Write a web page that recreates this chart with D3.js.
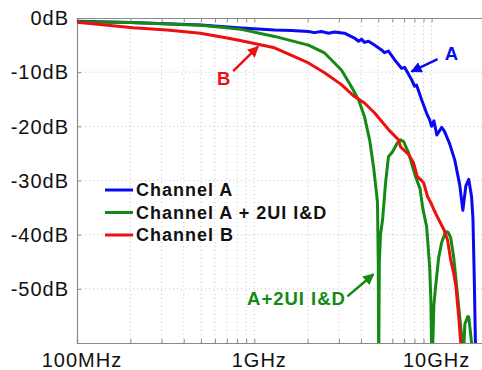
<!DOCTYPE html>
<html>
<head>
<meta charset="utf-8">
<script src="https://cdn.jsdelivr.net/npm/d3@7"></script>
<style>
  body { margin: 0; background: #fff; }
  svg { display: block; }
  text { font-family: "Liberation Sans", Arial, Helvetica, sans-serif; letter-spacing: 1px; }
</style>
</head>
<body>
<svg id="chart" width="482" height="370"></svg>
<script>
// ====== DATA (frequency in GHz, magnitude in dB) ======
const channelA = [
  [0.1, -0.6], [0.2, -0.85], [0.5, -1.3], [0.845, -1.85], [1.3, -2.2], [1.62, -2.3],
  [2.02, -2.5], [2.18, -2.7], [2.39, -2.5], [2.62, -2.8], [2.83, -2.6], [3.22, -2.8],
  [3.67, -3.7], [3.87, -4.3], [4.02, -3.9], [4.18, -4.5], [4.4, -4.3], [4.76, -5.0],
  [5.22, -5.9], [5.42, -6.4], [5.71, -6.1], [6.18, -7.7], [6.77, -9.3], [7.04, -9.1],
  [7.71, -11.4], [8.02, -12.6], [8.23, -12.4], [8.78, -15.1], [9.37, -17.6], [9.75, -18.8],
  [10.0, -20.0], [10.3, -19.0], [10.7, -21.6], [11.4, -20.2], [11.8, -20.9], [12.6, -23.1],
  [13.5, -26.2], [14.2, -29.8], [14.4, -30.8], [15.0, -35.5], [15.6, -31.0], [16.2, -29.8],
  [16.8, -33.0], [17.1, -37.0], [17.4, -48.0], [17.7, -62.0]
];

const channelAID = [
  [0.1, -0.7], [0.2, -0.85], [0.5, -1.35], [0.845, -2.1], [1.3, -3.4], [2.02, -5.0],
  [2.49, -6.45], [3.1, -9.6], [3.53, -12.7], [3.87, -15.1], [4.18, -18.2], [4.47, -22.5],
  [4.7, -27.4], [4.83, -30.8], [4.95, -34.0], [5.0, -45.0], [5.03, -65.0], [5.07, -45.0],
  [5.15, -40.0], [5.29, -37.2], [5.5, -30.4], [5.71, -25.6], [6.02, -24.7], [6.43, -23.0],
  [6.68, -22.5], [6.95, -22.8], [7.41, -24.9], [8.12, -29.3], [8.6, -31.5], [8.9, -35.0],
  [9.37, -38.5], [9.55, -42.0], [9.75, -46.0], [9.9, -52.0], [10.05, -65.0], [10.3, -53.0],
  [10.5, -50.0], [10.96, -44.2], [11.4, -41.4], [12.0, -39.4], [12.4, -39.6], [12.8, -40.5],
  [13.3, -44.0], [13.5, -46.0], [14.2, -53.2], [14.7, -58.0], [15.0, -65.0], [15.4, -56.5],
  [16.0, -55.1], [16.2, -55.2], [16.8, -60.0], [17.0, -65.0]
];

const channelB = [
  [0.1, -0.8], [0.135, -1.2], [0.207, -1.8], [0.322, -2.2], [0.495, -2.8], [0.704, -3.7],
  [0.845, -4.2], [1.3, -5.5], [2.02, -8.3], [2.49, -10.1], [3.1, -12.3], [3.67, -14.5],
  [4.18, -15.7], [4.76, -17.5], [5.71, -20.6], [6.51, -22.5], [6.68, -23.8], [7.41, -25.2],
  [7.9, -26.7], [8.3, -29.3], [8.78, -30.0], [9.01, -30.4], [9.49, -33.0], [9.9, -34.1],
  [10.3, -35.4], [10.96, -37.2], [11.7, -39.0], [12.3, -41.0], [12.8, -44.6], [13.3, -47.0],
  [13.7, -49.5], [14.2, -55.0], [14.6, -60.0], [14.8, -64.0]
];

const seriesNames = ["Channel A", "Channel A + 2UI I&D", "Channel B"];
const seriesColors = ["#0a0af0", "#148a14", "#ee1010"];

const xTickValues = [0.1, 1, 10];
const xTickLabels = ["100MHz", "1GHz", "10GHz"];
const yTickValues = [0, -10, -20, -30, -40, -50];
const yTickLabels = ["0dB", "-10dB", "-20dB", "-30dB", "-40dB", "-50dB"];

// annotations: label, text position, arrow start, arrow tip (GHz, dB)
const annotations = [
  { text: "A", color: 0, at: [13.0, -7.7], from: [10.8, -7.6], to: [7.7, -9.9] },
  { text: "B", color: 2, at: [0.677, -12.3], from: [0.76, -9.8], to: [1.05, -5.3] },
  { text: "A+2UI I&D", color: 1, at: [1.73, -52.9], from: [3.35, -51.4], to: [4.7, -47.3] }
];

// ====== LAYOUT ======
const svg = d3.select("#chart");
const margin = { left: 77, top: 18, right: 485, bottom: 343 };

const x = d3.scaleLog().domain([0.1, 20]).range([margin.left, margin.right]);
const y = d3.scaleLinear().domain([-60, 0]).range([margin.bottom, margin.top]);

// minor grid positions, 1..9 per decade
const gridX = [];
[0.1, 1, 10].forEach(d => {
  for (let k = 1; k <= 9; k++) {
    const v = d * k;
    if (v <= 20) gridX.push(v);
  }
});
gridX.push(20);

svg.append("defs").append("clipPath").attr("id", "plotClip")
  .append("rect")
  .attr("x", margin.left).attr("y", margin.top)
  .attr("width", margin.right - margin.left)
  .attr("height", margin.bottom - margin.top);

// ====== GRID ======
const grid = svg.append("g");
grid.selectAll(".gx").data(gridX.filter(v => v > 0.1)).enter().append("line")
  .attr("x1", d => x(d)).attr("x2", d => x(d))
  .attr("y1", margin.top).attr("y2", margin.bottom)
  .attr("stroke", "#c4c4c4").attr("stroke-width", 1)
  .attr("stroke-dasharray", "1,3");
grid.selectAll(".gy").data(yTickValues.slice(1)).enter().append("line")
  .attr("x1", margin.left).attr("x2", margin.right)
  .attr("y1", d => y(d)).attr("y2", d => y(d))
  .attr("stroke", "#c4c4c4").attr("stroke-width", 1)
  .attr("stroke-dasharray", "1,3");

// ====== AXES ======
const axisColor = "#8a8a8a";
const bottomAxis = svg.append("g")
  .attr("transform", `translate(0,${margin.bottom})`)
  .call(d3.axisBottom(x).tickValues(gridX).tickSize(-4).tickFormat(""));
const topAxis = svg.append("g")
  .attr("transform", `translate(0,${margin.top})`)
  .call(d3.axisTop(x).tickValues(gridX).tickSize(-4).tickFormat(""));
const leftAxis = svg.append("g")
  .attr("transform", `translate(${margin.left},0)`)
  .call(d3.axisLeft(y).tickValues(yTickValues).tickSize(-4).tickFormat(""));

[bottomAxis, topAxis, leftAxis].forEach(a => {
  a.selectAll("path").attr("stroke", axisColor).attr("stroke-width", 1.2);
  a.selectAll("line").attr("stroke", axisColor);
});

svg.selectAll(".xlab").data(xTickValues).enter().append("text")
  .attr("x", d => x(d) + 5)
  .attr("y", 367)
  .attr("text-anchor", "middle")
  .attr("font-size", 20)
  .attr("fill", "#111")
  .text((d, i) => xTickLabels[i]);

svg.selectAll(".ylab").data(yTickValues).enter().append("text")
  .attr("x", 69)
  .attr("y", d => y(d))
  .attr("dy", "0.36em")
  .attr("text-anchor", "end")
  .attr("font-size", 20)
  .attr("fill", "#111")
  .text((d, i) => yTickLabels[i]);

// ====== CURVES ======
const line = d3.line().x(d => x(d[0])).y(d => y(d[1]));
const curves = svg.append("g").attr("clip-path", "url(#plotClip)");
[channelA, channelAID, channelB].forEach((data, i) => {
  curves.append("path")
    .datum(data)
    .attr("d", line)
    .attr("fill", "none")
    .attr("stroke", seriesColors[i])
    .attr("stroke-width", 3)
    .attr("stroke-linejoin", "round");
});

// ====== LEGEND ======
const legend = svg.append("g");
seriesNames.forEach((name, i) => {
  const ly = 190 + i * 22.5;
  legend.append("line")
    .attr("x1", 105).attr("x2", 133)
    .attr("y1", ly).attr("y2", ly)
    .attr("stroke", seriesColors[i]).attr("stroke-width", 3);
  legend.append("text")
    .attr("x", 136).attr("y", ly)
    .attr("dy", "0.36em")
    .attr("font-size", 18)
    .attr("font-weight", "bold")
    .attr("fill", "#111")
    .text(name);
});

// ====== ANNOTATIONS ======
const defs = svg.select("defs");
seriesColors.forEach((c, i) => {
  defs.append("marker")
    .attr("id", "arrow" + i)
    .attr("viewBox", "0 0 10 10")
    .attr("refX", 9).attr("refY", 5)
    .attr("markerWidth", 4.5).attr("markerHeight", 4.5)
    .attr("markerUnits", "strokeWidth")
    .attr("orient", "auto")
    .append("path")
    .attr("d", "M0,0 L10,5 L0,10 z")
    .attr("fill", c);
});

annotations.forEach(a => {
  svg.append("line")
    .attr("x1", x(a.from[0])).attr("y1", y(a.from[1]))
    .attr("x2", x(a.to[0])).attr("y2", y(a.to[1]))
    .attr("stroke", seriesColors[a.color])
    .attr("stroke-width", 2.5)
    .attr("marker-end", `url(#arrow${a.color})`);
  svg.append("text")
    .attr("x", x(a.at[0])).attr("y", y(a.at[1]))
    .attr("text-anchor", "middle")
    .attr("font-size", 18.5)
    .attr("font-weight", "bold")
    .attr("fill", seriesColors[a.color])
    .text(a.text);
});
</script>
</body>
</html>
